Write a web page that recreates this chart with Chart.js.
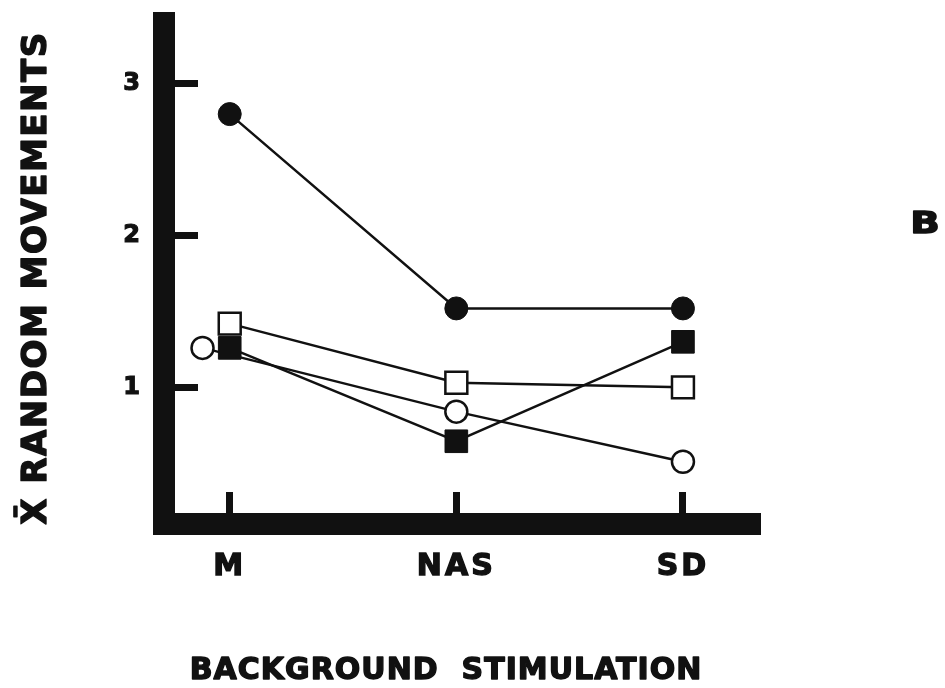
<!DOCTYPE html>
<html>
<head>
<meta charset="utf-8">
<script src="https://cdn.jsdelivr.net/npm/chart.js@4"></script>
<style>
  html, body { margin: 0; padding: 0; background: #ffffff; }
  canvas { display: block; }
</style>
</head>
<body>
<canvas id="c" width="945" height="688"></canvas>
<script>
// ---- data ----
const categories = ['M', 'NAS', 'SD'];
const catX = [0, 1, 2];
const yTicks = [1, 2, 3];
const filledCircle = [2.80, 1.52, 1.52];
const filledSquare = [1.26, 0.645, 1.30];
const openSquare = [1.42, 1.03, 1.00];
const openCircle = [1.26, 0.84, 0.51];
const openCircleX = [-0.12, 1, 2]; // M point printed slightly left in the original
const yTitle = 'X\u0304 RANDOM MOVEMENTS';
const xTitle = 'BACKGROUND  STIMULATION';
const panelLabel = 'B';

const INK = '#111111';
const FONT = '"DejaVu Sans", "Liberation Sans", sans-serif';

const pts = (xs, ys) => ys.map((y, i) => ({ x: xs[i], y }));

function heavyText(ctx, text, x, y) {
  ctx.strokeText(text, x, y);
  ctx.fillText(text, x, y);
}

const textPlugin = {
  id: 'textPlugin',
  beforeDraw(chart) {
    chart.ctx.letterSpacing = '3px';
  },
  afterDraw(chart) {
    const ctx = chart.ctx;
    ctx.save();
    ctx.fillStyle = INK;
    ctx.strokeStyle = INK;
    ctx.lineWidth = 1.4;
    ctx.lineJoin = 'round';
    ctx.textBaseline = 'middle';
    ctx.textAlign = 'center';
    // x axis title
    ctx.letterSpacing = '1px';
    ctx.font = 'bold 30px ' + FONT;
    heavyText(ctx, xTitle, 446, 671);
    // panel label (wide letter in the original)
    ctx.save();
    ctx.letterSpacing = '0px';
    ctx.font = 'bold 31px ' + FONT;
    ctx.translate(925, 225);
    ctx.scale(1.25, 1);
    heavyText(ctx, panelLabel, 0, 0);
    ctx.restore();
    // y axis title
    ctx.translate(37, 278);
    ctx.rotate(-Math.PI / 2);
    ctx.letterSpacing = '1.5px';
    ctx.font = 'bold 34px ' + FONT;
    heavyText(ctx, yTitle, 0, 0);
    ctx.restore();
  }
};

const lineDs = (label, xs, ys, style, radius, fillColor) => ({
  label,
  data: pts(xs, ys),
  borderColor: INK,
  borderWidth: 2.5,
  fill: false,
  tension: 0,
  pointStyle: style,
  pointRadius: radius,
  pointHoverRadius: radius,
  pointBackgroundColor: fillColor,
  pointBorderColor: INK,
  pointBorderWidth: fillColor === INK ? 1 : 2.5
});

new Chart(document.getElementById('c'), {
  type: 'line',
  data: {
    datasets: [
      lineDs('filled square', catX, filledSquare, 'rect', 16, INK),
      lineDs('filled circle', catX, filledCircle, 'circle', 11.5, INK),
      lineDs('open square', catX, openSquare, 'rect', 15.5, '#ffffff'),
      lineDs('open circle', openCircleX, openCircle, 'circle', 11, '#ffffff')
    ]
  },
  plugins: [textPlugin],
  options: {
    responsive: false,
    animation: false,
    devicePixelRatio: 1,
    layout: { padding: { left: 0, top: 23, right: 185, bottom: 0 } },
    plugins: { legend: { display: false }, tooltip: { enabled: false } },
    scales: {
      x: {
        type: 'linear',
        position: 'bottom',
        min: -0.29,
        max: 2.34,
        afterBuildTicks: s => { s.ticks = catX.map(v => ({ value: v })); },
        afterFit: s => { s.height = 164; s.paddingLeft = 0; s.paddingRight = 0; },
        ticks: {
          callback: v => { const i = catX.indexOf(v); return i >= 0 ? categories[i] : ''; },
          font: { family: FONT, weight: 'bold', size: 30 },
          color: INK,
          textStrokeColor: INK,
          textStrokeWidth: 1.4,
          padding: 57,
          maxRotation: 0,
          autoSkip: false
        },
        grid: { drawOnChartArea: false, drawTicks: true, tickLength: -32, tickWidth: 7, tickColor: INK },
        border: { display: true, width: 22, color: INK }
      },
      y: {
        type: 'linear',
        position: 'left',
        min: 0.1,
        max: 3.4,
        afterBuildTicks: s => { s.ticks = yTicks.map(v => ({ value: v })); },
        afterFit: s => { s.width = 164; s.paddingTop = 0; s.paddingBottom = 0; },
        ticks: {
          callback: v => String(v),
          font: { family: FONT, weight: 'bold', size: 24 },
          color: INK,
          textStrokeColor: INK,
          textStrokeWidth: 1.2,
          padding: 55
        },
        grid: { drawOnChartArea: false, drawTicks: true, tickLength: -34, tickWidth: 7, tickColor: INK },
        border: { display: true, width: 22, color: INK }
      }
    }
  }
});
</script>
</body>
</html>
